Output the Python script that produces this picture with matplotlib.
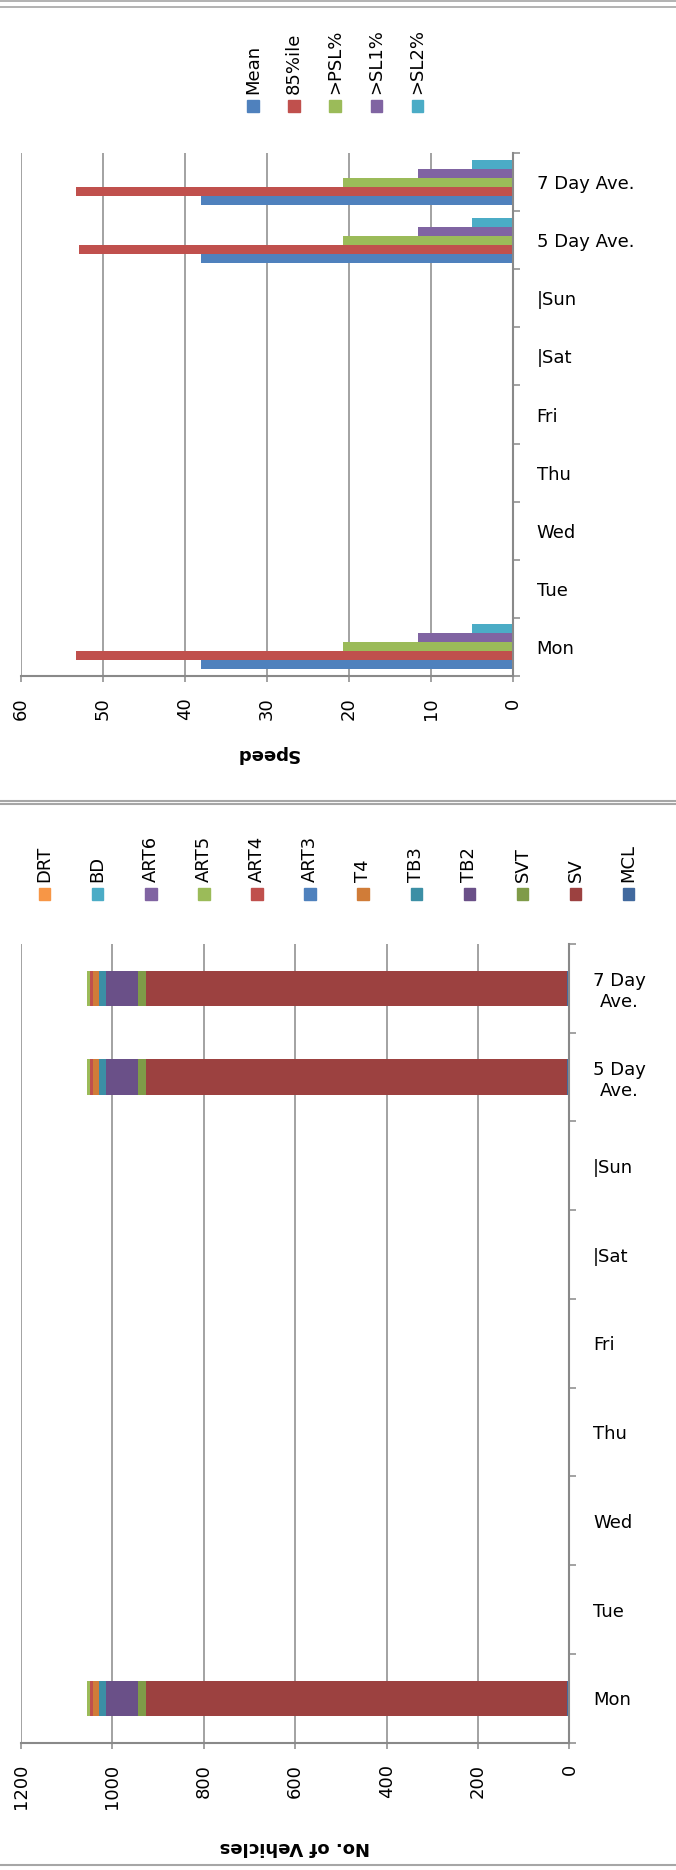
import numpy as np
import matplotlib.pyplot as plt
from matplotlib.lines import Line2D
from matplotlib.patches import Rectangle

plt.rcParams['font.family'] = ['DejaVu Sans']

nan = np.nan

# categories, bottom to top
days = ['Mon', 'Tue', 'Wed', 'Thu', 'Fri', '|Sat', '|Sun', '5 Day Ave.', '7 Day Ave.']
days_wrapped = ['Mon', 'Tue', 'Wed', 'Thu', 'Fri', '|Sat', '|Sun', '5 Day\nAve.', '7 Day\nAve.']

# speed chart
speed_series = ['Mean', '85%ile', '>PSL%', '>SL1%', '>SL2%']
speed_colors = ['#4F81BD', '#C0504D', '#9BBB59', '#8064A2', '#4BACC6']
mean_speed = [38.0, nan, nan, nan, nan, nan, nan, 38.0, 38.0]
pct85_speed = [53.2, nan, nan, nan, nan, nan, nan, 52.9, 53.2]
psl_pct = [20.7, nan, nan, nan, nan, nan, nan, 20.7, 20.7]
sl1_pct = [11.6, nan, nan, nan, nan, nan, nan, 11.6, 11.6]
sl2_pct = [5.0, nan, nan, nan, nan, nan, nan, 5.0, 5.0]
speed_ticks = [0, 10, 20, 30, 40, 50, 60]

# vehicle classification chart (stack order from 0 outwards)
vehicle_classes = ['MCL', 'SV', 'SVT', 'TB2', 'TB3', 'T4', 'ART3', 'ART4', 'ART5', 'ART6', 'BD', 'DRT']
vehicle_colors = ['#41699E', '#9C4140', '#7F9B48', '#6A5088', '#3C8FA5', '#D07C38',
                  '#4F81BD', '#C0504D', '#9BBB59', '#8064A2', '#4BACC6', '#F79646']
mcl = [5, nan, nan, nan, nan, nan, nan, 5, 5]
sv = [921, nan, nan, nan, nan, nan, nan, 921, 921]
svt = [18, nan, nan, nan, nan, nan, nan, 18, 18]
tb2 = [70, nan, nan, nan, nan, nan, nan, 70, 70]
tb3 = [14, nan, nan, nan, nan, nan, nan, 14, 14]
t4 = [14, nan, nan, nan, nan, nan, nan, 14, 14]
art3 = [1, nan, nan, nan, nan, nan, nan, 1, 1]
art4 = [5, nan, nan, nan, nan, nan, nan, 5, 5]
art5 = [6, nan, nan, nan, nan, nan, nan, 6, 6]
art6 = [2, nan, nan, nan, nan, nan, nan, 2, 2]
bd = [0, nan, nan, nan, nan, nan, nan, 0, 0]
drt = [0, nan, nan, nan, nan, nan, nan, 0, 0]
vehicle_ticks = [0, 200, 400, 600, 800, 1000, 1200]

GRID = '#898989'
FS = 13
W, H = 676, 1870

fig = plt.figure(figsize=(W / 100, H / 100), dpi=100)


def px_axes(left, top, right, bottom):
    return fig.add_axes([left / W, 1 - bottom / H, (right - left) / W, (bottom - top) / H])


def style_axes(ax, xmax, ticks, labels):
    n = len(labels)
    ax.set_xlim(xmax, 0)
    ax.set_ylim(-0.5, n - 0.5)
    ax.set_xticks(ticks)
    ax.tick_params(axis='x', direction='out', length=4.3, width=1.1, color=GRID,
                   labelsize=FS, labelrotation=90, pad=11)
    ax.grid(axis='x', color=GRID, linewidth=1.1)
    ax.set_axisbelow(True)
    for s in ['left', 'top']:
        ax.spines[s].set_visible(False)
    for s in ['bottom', 'right']:
        ax.spines[s].set_color(GRID)
        ax.spines[s].set_linewidth(1.5)
    ax.yaxis.tick_right()
    ax.set_yticks(np.arange(n + 1) - 0.5)
    ax.set_yticklabels([])
    ax.set_yticks(np.arange(n), minor=True)
    ax.set_yticklabels(labels, minor=True)
    ax.tick_params(axis='y', which='major', direction='out', length=5, width=1.1, color=GRID)
    ax.tick_params(axis='y', which='minor', length=0, pad=17, labelsize=FS)
    for lab in ax.get_yticklabels(minor=True):
        lab.set_multialignment('center')
    for lab in ax.get_xticklabels():
        lab.set_va('top')


# ---- speed panel ----
ax1 = px_axes(20.7, 153, 513, 676)
y = np.arange(len(days))
speed_vals = [mean_speed, pct85_speed, psl_pct, sl1_pct, sl2_pct]
bw = 0.155
for i, (name, vals, c) in enumerate(zip(speed_series, speed_vals, speed_colors)):
    ax1.barh(y + (i - 2) * bw, np.array(vals, dtype=float), height=bw, color=c, label=name)
style_axes(ax1, 60, speed_ticks, days)
ax1.set_xlabel('Speed', rotation=180, fontsize=FS, fontweight='bold', va='center')
ax1.xaxis.set_label_coords(0.5, (676 - 754) / (676 - 153))

# ---- vehicle panel ----
ax2 = px_axes(20.7, 944, 569.5, 1742.7)
vehicle_vals = [mcl, sv, svt, tb2, tb3, t4, art3, art4, art5, art6, bd, drt]
left = np.zeros(len(days))
for name, vals, c in zip(vehicle_classes, vehicle_vals, vehicle_colors):
    v = np.array(vals, dtype=float)
    ax2.barh(y, v, left=left, height=0.4, color=c, label=name)
    left = left + v
style_axes(ax2, 1200, vehicle_ticks, days_wrapped)
ax2.set_xlabel('No. of Vehicles', rotation=180, fontsize=FS, fontweight='bold', va='center')
ax2.xaxis.set_label_coords(0.5, (1742.7 - 1847) / (1742.7 - 944))

# ---- legends (rotated text above colour squares) ----
def rotated_legend(names, colors, x0, step, y_marker, y_text):
    sq = 11.5
    for i, (n, c) in enumerate(zip(names, colors)):
        x = x0 + i * step
        fig.add_artist(Rectangle(((x - sq / 2) / W, 1 - (y_marker + sq / 2) / H), sq / W, sq / H,
                                 transform=fig.transFigure, color=c))
        fig.text(x / W, 1 - y_text / H, n, rotation=90, ha='center', va='bottom', fontsize=FS)


rotated_legend(speed_series, speed_colors, 252.8, 41.2, 106, 94)
rotated_legend(vehicle_classes[::-1], vehicle_colors[::-1], 44.6, 53.1, 894, 882)

# ---- panel border lines ----
for yy, lw in [(1, 1.2), (6.5, 1.2), (800.5, 1.5), (803.5, 1.5), (1865, 1.5)]:
    fig.add_artist(Line2D([0, 1], [1 - yy / H, 1 - yy / H], transform=fig.transFigure,
                          color='#A6A6A6', linewidth=lw))

fig.savefig('out.png', dpi=100)
